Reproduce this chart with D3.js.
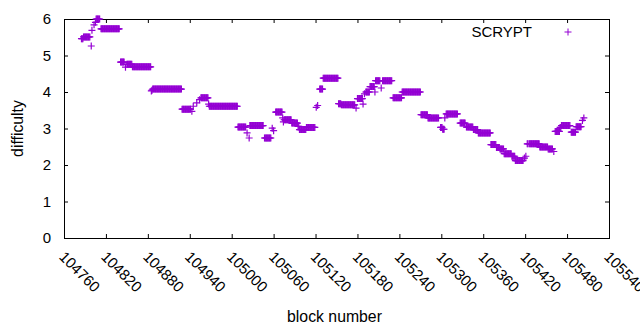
<!DOCTYPE html>
<html><head><meta charset="utf-8">
<script src="https://cdn.jsdelivr.net/npm/d3@7"></script>
<style>body{margin:0;background:#fff} text{font-family:"Liberation Sans",Arial,sans-serif;fill:#000}</style>
</head><body><svg id="c" width="640" height="330"></svg>
<script>
// Runs of consecutive blocks sharing the same difficulty (start block, end block, value)
const runStart = [104785,104788,104799,104800,104803,104805,104806,104813,104841,104848,104850,104858,104885,104886,104887,104929,104943,104945,104950,104954,104956,104967,104968,105009,105022,105025,105026,105047,105058,105060,105063,105073,105074,105075,105086,105095,105097,105107,105121,105123,105126,105131,105153,105157,105178,105180,105188,105190,105192,105198,105205,105206,105214,105216,105231,105244,105271,105281,105299,105302,105305,105307,105327,105336,105346,105353,105371,105379,105384,105390,105401,105406,105419,105421,105423,105426,105441,105453,105461,105463,105470,105472,105486,105493,105502,105504];
const runEnd   = [104787,104797,104799,104800,104803,104805,104811,104839,104846,104848,104857,104884,104885,104886,104928,104941,104943,104945,104950,104954,104966,104967,105008,105020,105022,105025,105045,105056,105058,105060,105072,105073,105074,105085,105094,105096,105106,105119,105121,105123,105130,105152,105156,105176,105178,105187,105188,105190,105197,105204,105205,105212,105214,105229,105243,105270,105280,105296,105301,105304,105305,105323,105334,105345,105352,105370,105378,105383,105389,105400,105405,105417,105419,105421,105424,105440,105452,105459,105461,105469,105471,105484,105492,105500,105502,105504];
const runDifficulty = [5.46,5.51,5.26,5.69,5.84,5.91,6.00,5.73,4.82,4.68,4.76,4.69,4.03,4.05,4.08,3.53,3.47,3.61,3.70,3.79,3.84,3.67,3.61,3.04,2.88,2.74,3.08,2.74,3.01,2.94,3.45,3.29,3.18,3.24,3.15,3.06,2.97,3.03,3.58,3.63,4.08,4.38,3.68,3.65,3.56,3.82,3.67,3.95,4.00,4.15,4.00,4.31,4.11,4.31,3.84,4.00,3.38,3.29,3.03,2.98,3.29,3.40,3.15,3.04,2.97,2.88,2.56,2.48,2.44,2.31,2.24,2.12,2.19,2.24,2.58,2.58,2.49,2.44,2.37,2.92,3.03,3.08,2.90,3.05,3.22,3.29];

const xTickLabels = [104760,104820,104880,104940,105000,105060,105120,105180,105240,105300,105360,105420,105480,105540];
const yTickLabels = [0,1,2,3,4,5,6];
const seriesName = "SCRYPT";
const xTitle = "block number";
const yTitle = "difficulty";

const points = [];
runStart.forEach((s, i) => {
  for (let b = s; b <= runEnd[i]; b++) points.push({block: b, value: runDifficulty[i]});
});

const L = 64, R = 609, T = 19, B = 238;
const color = "#9400d3";
const svg = d3.select("#c");
const x = d3.scaleLinear().domain([104760, 105540]).range([L, R]);
const y = d3.scaleLinear().domain([0, 6]).range([B, T]);

// axes with inward ticks (mirrored)
svg.append("g").attr("transform", `translate(0,${B})`)
  .call(d3.axisBottom(x).tickValues(xTickLabels).tickSize(-4).tickFormat(""))
  .call(g => g.select(".domain").remove());
svg.append("g").attr("transform", `translate(0,${T})`)
  .call(d3.axisTop(x).tickValues(xTickLabels).tickSize(-4).tickFormat(""))
  .call(g => g.select(".domain").remove());
svg.append("g").attr("transform", `translate(${L},0)`)
  .call(d3.axisLeft(y).tickValues(yTickLabels).tickSize(-4).tickPadding(13).tickFormat(d3.format("d")))
  .call(g => g.select(".domain").remove())
  .call(g => g.selectAll("text").attr("font-size", 15).attr("font-family", '"Liberation Sans",Arial,sans-serif'));
svg.append("g").attr("transform", `translate(${R},0)`)
  .call(d3.axisRight(y).tickValues(yTickLabels).tickSize(-4).tickFormat(""))
  .call(g => g.select(".domain").remove());
svg.selectAll(".tick line").attr("stroke", "#000");

svg.append("rect").attr("x", L + 0.5).attr("y", T + 0.5).attr("width", R - L).attr("height", B - T)
  .attr("fill", "none").attr("stroke", "#000").attr("stroke-width", 1);

// rotated x tick labels
svg.append("g").selectAll("text").data(xTickLabels).join("text")
  .attr("transform", d => `translate(${x(d) - 2},${B + 16}) rotate(45)`)
  .attr("font-size", 15).attr("text-anchor", "start").attr("dy", "0.35em")
  .text(d => d);

// axis titles
svg.append("text").attr("x", (L + R) / 2 - 2).attr("y", 322).attr("text-anchor", "middle")
  .attr("font-size", 15.8).text(xTitle);
svg.append("text").attr("transform", `translate(23,${(T + B) / 2}) rotate(-90)`)
  .attr("text-anchor", "middle").attr("font-size", 15.8).text(yTitle);

// points
const plus = "M-3.5,0H3.5M0,-3.5V3.5";
svg.append("g").selectAll("path").data(points).join("path")
  .attr("transform", d => `translate(${x(d.block)},${y(d.value)})`)
  .attr("d", plus).attr("stroke", color).attr("stroke-width", 1.2).attr("fill", "none");

// legend
svg.append("text").attr("x", 532).attr("y", 37).attr("text-anchor", "end").attr("font-size", 15).text(seriesName);
svg.append("path").attr("transform", "translate(568,32)").attr("d", plus)
  .attr("stroke", color).attr("stroke-width", 1).attr("fill", "none");
</script></body></html>
